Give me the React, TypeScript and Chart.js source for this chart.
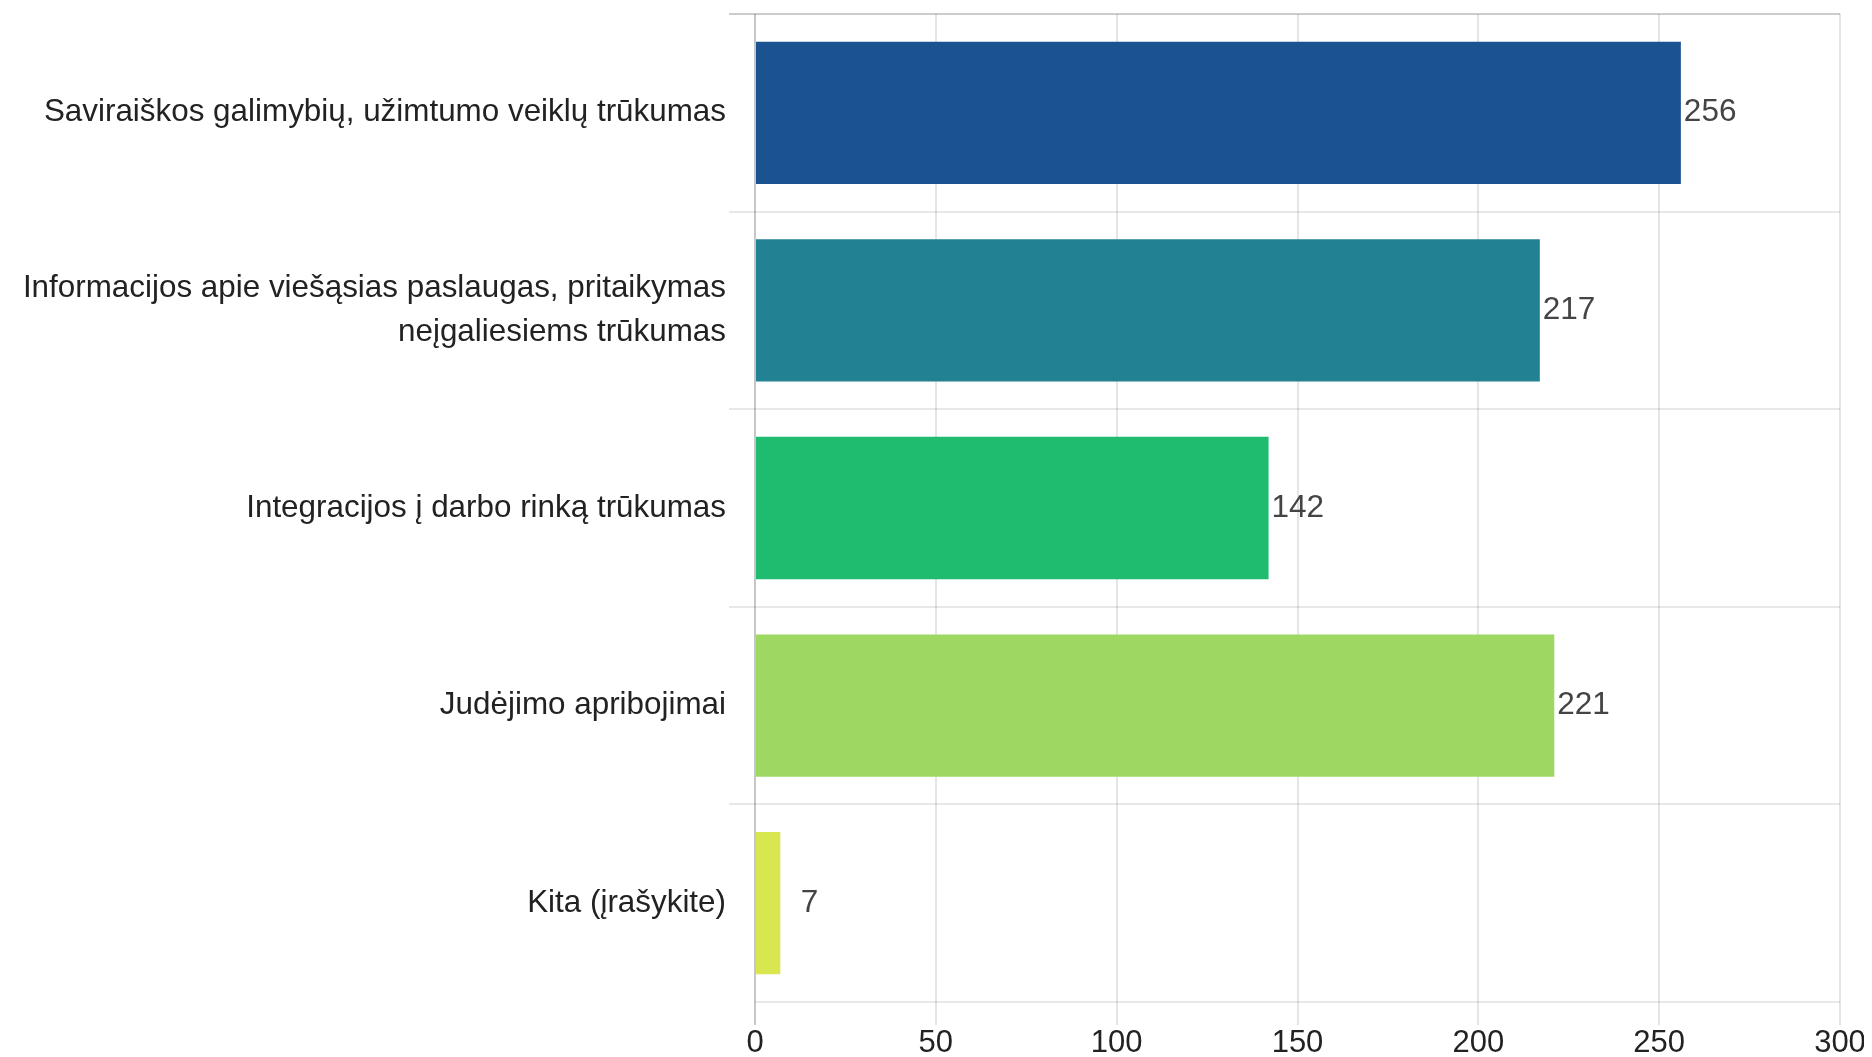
import React, { useEffect, useRef } from "react";
import { Chart, registerables } from "chart.js";

Chart.register(...registerables);

const categories: (string | string[])[] = [
  "Saviraiškos galimybių, užimtumo veiklų trūkumas",
  ["Informacijos apie viešąsias paslaugas, pritaikymas", "neįgaliesiems trūkumas"],
  "Integracijos į darbo rinką trūkumas",
  "Judėjimo apribojimai",
  "Kita (įrašykite)",
];
const values = [256, 217, 142, 221, 7];
const barColors = ["#1b5290", "#228193", "#1fbb6e", "#9ed762", "#d8e750"];
const xTickMin = 0;
const xTickMax = 300;
const xTickStep = 50;

const FONT = "'Liberation Sans', Arial, sans-serif";
const CANVAS_W = 1856;
const CANVAS_H = 1049;

const valueLabels = {
  id: "valueLabels",
  afterDatasetsDraw(chart: any) {
    const ctx = chart.ctx;
    ctx.save();
    ctx.font = `31.5px ${FONT}`;
    ctx.fillStyle = "#444444";
    ctx.textAlign = "center";
    ctx.textBaseline = "middle";
    const boxW = ctx.measureText("000").width;
    const meta = chart.getDatasetMeta(0);
    meta.data.forEach((bar: any, i: number) => {
      const v = chart.data.datasets[0].data[i];
      ctx.fillText(String(v), bar.x + 3 + boxW / 2, bar.y);
    });
    ctx.restore();
  },
};

export default function App() {
  const ref = useRef<HTMLCanvasElement>(null);
  useEffect(() => {
    if (!ref.current) return;
    const chart = new Chart(ref.current, {
      type: "bar",
      data: {
        labels: categories,
        datasets: [
          {
            data: values,
            backgroundColor: barColors,
            borderWidth: 0,
          },
        ],
      },
      options: {
        indexAxis: "y",
        responsive: false,
        animation: false,
        layout: { padding: { top: 6, right: 0, bottom: 0, left: 0 } },
        plugins: {
          legend: { display: false },
          tooltip: { enabled: false },
        },
        scales: {
          x: {
            min: xTickMin,
            max: xTickMax,
            z: 1,
            ticks: {
              stepSize: xTickStep,
              color: "#222222",
              padding: 0,
              font: { family: FONT, size: 31 },
            },
            grid: {
              color: (c: any) =>
                c.tick && c.tick.value === 0 ? "rgba(0,0,0,0.22)" : "rgba(0,0,0,0.1)",
              lineWidth: 2,
              tickLength: 23,
            },
            border: { display: false },
            afterFit: (scale: any) => {
              scale.height = 55;
              scale.paddingLeft = 0;
              scale.paddingRight = 24;
            },
          },
          y: {
            ticks: {
              color: "#222222",
              padding: 3,
              font: { family: FONT, size: 31.4, lineHeight: 1.4 },
            },
            grid: {
              color: (c: any) => (c.index === 0 ? "rgba(0,0,0,0.2)" : "rgba(0,0,0,0.09)"),
              tickColor: (c: any) =>
                c.index === undefined || c.index >= categories.length
                  ? "rgba(0,0,0,0)"
                  : c.index === 0
                  ? "rgba(0,0,0,0.2)"
                  : "rgba(0,0,0,0.09)",
              lineWidth: 2,
              tickLength: 26,
            },
            border: { display: false },
            afterFit: (scale: any) => {
              scale.width = 747;
              scale.paddingTop = 0;
              scale.paddingBottom = 0;
            },
          },
        },
      },
      plugins: [valueLabels],
    });
    return () => chart.destroy();
  }, []);
  return (
    <div style={{ width: CANVAS_W, height: CANVAS_H }}>
      <canvas ref={ref} width={CANVAS_W} height={CANVAS_H} style={{ display: "block" }} />
    </div>
  );
}
